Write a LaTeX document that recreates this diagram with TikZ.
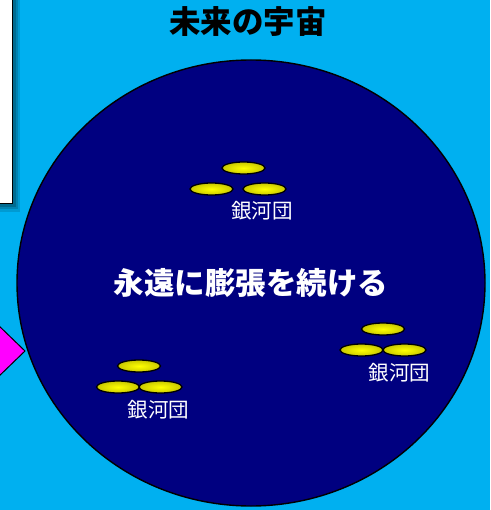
\documentclass[tikz,border=0pt]{standalone}
\usepackage{fontspec}
\newfontfamily\jp{Noto Sans CJK JP}
\usetikzlibrary{shapes.geometric}
\definecolor{sky}{HTML}{00B0F0}
\definecolor{deepspace}{HTML}{000080}
\definecolor{pink}{HTML}{FF00FF}
\definecolor{gold}{HTML}{FFFF00}
\definecolor{goldrim}{HTML}{C8C800}
\tikzset{
  universe/.style={ellipse, draw=black, line width=1.4pt, fill=deepspace,
    minimum width=468, minimum height=446, inner sep=0pt},
  galaxy/.style={ellipse, draw=black, line width=1.3pt, inner color=gold,
    outer color=goldrim, minimum width=43, minimum height=12, inner sep=0pt},
  cluster/.style={text=white, font=\jp\fontsize{20.5}{20.5}\selectfont, inner sep=0pt},
  headline/.style={text=black, font=\jp\bfseries\fontsize{31.5}{31.5}\selectfont, inner sep=0pt},
  motto/.style={text=white, font=\jp\bfseries\fontsize{30.5}{30.5}\selectfont, inner sep=0pt},
}
\begin{document}
\begin{tikzpicture}[x=1pt,y=-1pt]
  % backdrop
  \fill[sky] (0,0) rectangle (490,510);
  \useasboundingbox (0,0) rectangle (490,510);

  % note card at the upper left, with its soft shadow
  \fill[black, opacity=0.12] (-10,-10) rectangle (20,212);
  \fill[black, opacity=0.15] (-10,-10) rectangle (18,209);
  \fill[black, opacity=0.18] (-10,-10) rectangle (16,207);
  \draw[fill=white, line width=1pt] (-10,-10) rectangle (12,204);

  % arrow pointing into the universe
  \draw[fill=pink, line width=1pt] (-5,322) -- (25,351) -- (-5,380);

  % the universe
  \node[universe] (cosmos) at (251,283) {};
  \node[headline] (title) at (248,22) {未来の宇宙};
  \node[motto] (motto) at (251,283) {永遠に膨張を続ける};

  % galaxy cluster, top
  \node[galaxy] (g1a) at (243.5,168) {};
  \node[galaxy] (g1b) at (211.5,189) {};
  \node[galaxy] (g1c) at (264.5,189) {};
  \node[cluster] (l1) at (262,211) {銀河団};

  % galaxy cluster, right
  \node[galaxy] (g2a) at (383,329) {};
  \node[galaxy] (g2b) at (361.5,350) {};
  \node[galaxy] (g2c) at (404.5,350) {};
  \node[cluster] (l2) at (399.5,373) {銀河団};

  % galaxy cluster, lower left
  \node[galaxy] (g3a) at (139,366) {};
  \node[galaxy] (g3b) at (118,387) {};
  \node[galaxy] (g3c) at (160.5,387) {};
  \node[cluster] (l3) at (158.5,410) {銀河団};
\end{tikzpicture}
\end{document}
